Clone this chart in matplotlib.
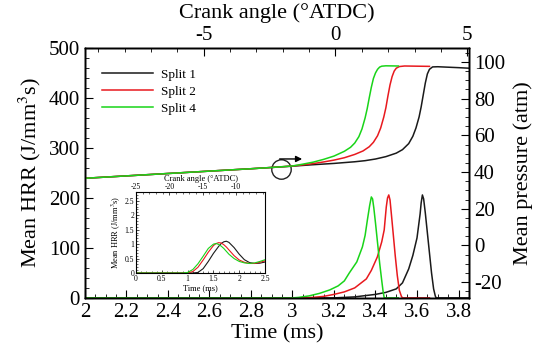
import matplotlib
matplotlib.use("Agg")
import matplotlib.pyplot as plt
from matplotlib.ticker import MultipleLocator
import numpy as np

plt.rcParams['font.family'] = ['Liberation Serif', 'DejaVu Serif']
plt.rcParams['mathtext.fontset'] = 'stix'
plt.rcParams['axes.unicode_minus'] = False

# ---------------- data ----------------
# Mean pressure (atm) vs time (ms)
p_green_t = [2.0, 2.2, 2.4, 2.6, 2.8, 2.9, 3.0, 3.05, 3.1, 3.15, 3.2, 3.25, 3.28, 3.30, 3.32, 3.335, 3.35, 3.36, 3.37, 3.38, 3.39, 3.40, 3.41, 3.42, 3.43, 3.45, 3.51]
p_green_v = [36.6, 37.9, 39.2, 40.5, 41.8, 42.5, 43.3, 44.3, 45.4, 46.9, 48.7, 51.3, 53.5, 55.8, 59.3, 63.5, 69.5, 74.5, 80.5, 86.2, 91.0, 94.0, 96.0, 97.2, 97.7, 97.9, 97.8]
p_red_t = [2.0, 2.2, 2.4, 2.6, 2.8, 2.9, 3.0, 3.05, 3.1, 3.15, 3.2, 3.25, 3.3, 3.34, 3.37, 3.39, 3.41, 3.425, 3.44, 3.45, 3.46, 3.47, 3.48, 3.49, 3.50, 3.515, 3.54, 3.66]
p_red_v = [36.6, 37.9, 39.2, 40.5, 41.8, 42.5, 43.3, 43.9, 44.6, 45.5, 46.5, 47.8, 49.6, 51.5, 53.8, 56.2, 59.8, 64.0, 70.0, 75.0, 81.5, 87.5, 92.0, 95.0, 96.6, 97.5, 97.8, 97.6]
p_black_t = [2.0, 2.2, 2.4, 2.6, 2.8, 2.9, 3.0, 3.1, 3.2, 3.3, 3.35, 3.4, 3.45, 3.5, 3.53, 3.56, 3.58, 3.595, 3.61, 3.62, 3.63, 3.64, 3.65, 3.66, 3.675, 3.7, 3.8, 3.85]
p_black_v = [36.6, 37.9, 39.2, 40.5, 41.8, 42.5, 43.2, 44.0, 44.7, 45.6, 46.2, 47.1, 48.4, 50.3, 52.2, 55.5, 59.5, 64.0, 70.0, 75.5, 82.0, 88.5, 93.5, 96.0, 97.3, 97.4, 96.9, 96.6]

# Mean HRR (J/mm^3 s) vs time (ms)
h_green_t = [2.0, 3.0, 3.03, 3.08, 3.13, 3.18, 3.22, 3.25, 3.274, 3.31, 3.337, 3.35, 3.361, 3.372, 3.38, 3.386, 3.392, 3.40, 3.41, 3.42, 3.43, 3.437, 3.442, 3.51]
h_green_v = [0, 0, 1, 4, 9, 16, 24, 34, 50, 72, 102, 125, 156, 185, 202, 198, 180, 150, 110, 70, 35, 12, 0, 0]
h_red_t = [2.0, 3.05, 3.1, 3.15, 3.2, 3.25, 3.3, 3.356, 3.38, 3.409, 3.43, 3.442, 3.452, 3.458, 3.464, 3.47, 3.476, 3.485, 3.495, 3.505, 3.515, 3.525, 3.53, 3.66]
h_red_v = [0, 0, 1, 3, 7, 12, 20, 38, 55, 82, 112, 136, 182, 200, 206, 196, 170, 130, 85, 45, 15, 3, 0, 0]
h_black_t = [2.0, 3.2, 3.3, 3.4, 3.45, 3.5, 3.53, 3.56, 3.58, 3.60, 3.615, 3.62, 3.626, 3.632, 3.64, 3.65, 3.66, 3.67, 3.68, 3.688, 3.692, 3.85]
h_black_v = [0, 0, 2, 7, 11, 18, 30, 58, 85, 120, 168, 190, 206, 198, 170, 130, 90, 50, 18, 4, 0, 0]

# Inset: early-time HRR
i_t = [0.0, 0.9, 1.0, 1.1, 1.2, 1.3, 1.4, 1.5, 1.55, 1.6, 1.65, 1.7, 1.75, 1.8, 1.9, 2.0, 2.1, 2.2, 2.3, 2.4, 2.5]
i_green = [0, 0, 0.02, 0.12, 0.32, 0.58, 0.85, 1.0, 1.02, 0.99, 0.93, 0.85, 0.75, 0.65, 0.5, 0.4, 0.35, 0.33, 0.35, 0.4, 0.46]
i_red = [0, 0, 0, 0.05, 0.2, 0.45, 0.72, 0.95, 1.02, 1.05, 1.04, 0.98, 0.9, 0.8, 0.6, 0.45, 0.37, 0.33, 0.33, 0.37, 0.42]
i_black = [0, 0, 0, 0, 0.02, 0.15, 0.4, 0.68, 0.8, 0.92, 1.02, 1.08, 1.1, 1.06, 0.88, 0.65, 0.46, 0.36, 0.33, 0.34, 0.38]

labels = ['Split 1', 'Split 2', 'Split 4']
colors = ['#1a1a1a', '#e8191e', '#19d419']

# ---------------- figure ----------------
fig = plt.figure(figsize=(5.51, 3.48), dpi=100)
ax = fig.add_axes([0.154, 0.144, 0.697, 0.718])
axr = ax.twinx()

lw = 1.1
ax.plot(h_black_t, h_black_v, color=colors[0], lw=lw, label=labels[0])
ax.plot(h_red_t, h_red_v, color=colors[1], lw=lw, label=labels[1])
ax.plot(h_green_t, h_green_v, color=colors[2], lw=lw, label=labels[2])
axr.plot(p_black_t, p_black_v, color=colors[0], lw=lw)
axr.plot(p_red_t, p_red_v, color=colors[1], lw=lw)
axr.plot(p_green_t, p_green_v, color=colors[2], lw=lw)

ax.set_xlim(2.0, 3.85)
ax.set_ylim(0, 500)
axr.set_ylim(-28.6, 107.6)
ax.xaxis.set_minor_locator(MultipleLocator(0.05))
ax.yaxis.set_major_locator(MultipleLocator(100))
ax.yaxis.set_minor_locator(MultipleLocator(20))
axr.yaxis.set_major_locator(MultipleLocator(20))
axr.yaxis.set_minor_locator(MultipleLocator(5))
ax.set_xticks(np.arange(2.0, 3.81, 0.2))
ax.set_xticklabels(['2', '2.2', '2.4', '2.6', '2.8', '3', '3.2', '3.4', '3.6', '3.8'])

fs_tick = 15
ax.tick_params(axis='both', which='major', direction='in', length=6, labelsize=fs_tick, width=0.8)
ax.tick_params(axis='both', which='minor', direction='in', length=3, width=0.6)
ax.tick_params(axis='x', which='both', top=False)
axr.tick_params(axis='y', which='major', direction='in', length=6, labelsize=fs_tick, width=0.8)
axr.tick_params(axis='y', which='minor', direction='in', length=3, width=0.6)

# top crank angle axis
axt = ax.twiny()
t0 = 3.207
k = 5.0 / 0.635
axt.set_xlim((2.0 - t0) * k, (3.85 - t0) * k)
axt.xaxis.set_major_locator(MultipleLocator(5))
axt.xaxis.set_minor_locator(MultipleLocator(1))
axt.tick_params(axis='x', which='major', direction='in', length=6, labelsize=fs_tick, width=0.8, pad=2)
axt.tick_params(axis='x', which='minor', direction='in', length=3, width=0.6)
axt.set_xlabel('Crank angle (\u00b0ATDC)', fontsize=16, labelpad=6)

ax.set_xlabel('Time (ms)', fontsize=16, labelpad=2)
ax.set_ylabel('Mean HRR (J/mm$^3$s)', fontsize=16, labelpad=4)
axr.set_ylabel('Mean pressure (atm)', fontsize=16, labelpad=6)

for a in (ax, axr, axt):
    for s in a.spines.values():
        s.set_linewidth(1.0)

leg = ax.legend(loc='upper left', bbox_to_anchor=(0.015, 0.965), frameon=False,
                fontsize=9.5, handlelength=3.8, handletextpad=0.6, labelspacing=0.35)

# circle + arrow annotation
ax.plot([2.945], [258], marker='o', markersize=14, markerfacecolor='none',
        markeredgecolor='#222222', markeredgewidth=1.0)
ax.annotate('', xy=(3.06, 278), xytext=(2.925, 278),
            arrowprops=dict(arrowstyle='-|>', color='black', lw=1.0, mutation_scale=9))

# ---------------- inset ----------------
ins = fig.add_axes([0.247, 0.2155, 0.234, 0.2325])
ins.plot(i_t, i_black, color=colors[0], lw=0.8)
ins.plot(i_t, i_red, color=colors[1], lw=0.8)
ins.plot(i_t, i_green, color=colors[2], lw=0.8)
ins.set_xlim(0, 2.5)
ins.set_ylim(0, 2.8)
ins.set_xticks([0, 0.5, 1, 1.5, 2, 2.5])
ins.set_xticklabels(['0', '0.5', '1', '1.5', '2', '2.5'])
ins.set_yticks([0, 0.5, 1, 1.5, 2, 2.5])
ins.set_yticklabels(['0', '0.5', '1', '1.5', '2', '2.5'])
ins.xaxis.set_minor_locator(MultipleLocator(0.1))
ins.yaxis.set_minor_locator(MultipleLocator(0.1))
ins.tick_params(axis='both', which='major', direction='in', length=2.5, labelsize=5.5, width=0.5, pad=1.5)
ins.tick_params(axis='both', which='minor', direction='in', length=1.2, width=0.4)
ins.set_xlabel('Time (ms)', fontsize=6, labelpad=1)
ins.set_ylabel('Mean HRR (J/mm$^3$s)', fontsize=6, labelpad=1)
for s in ins.spines.values():
    s.set_linewidth(0.6)
inst = ins.twiny()
t0i = 3.225
ki = 5.0 / 0.645
inst.set_xlim((0 - t0i) * ki, (2.5 - t0i) * ki)
inst.xaxis.set_major_locator(MultipleLocator(5))
inst.xaxis.set_minor_locator(MultipleLocator(1))
inst.tick_params(axis='x', which='major', direction='in', length=2.5, labelsize=5.5, width=0.5, pad=1)
inst.tick_params(axis='x', which='minor', direction='in', length=1.2, width=0.4)
inst.set_xlabel('Crank angle (\u00b0ATDC)', fontsize=6, labelpad=1.5)

fig.savefig('out.png', dpi=100)
